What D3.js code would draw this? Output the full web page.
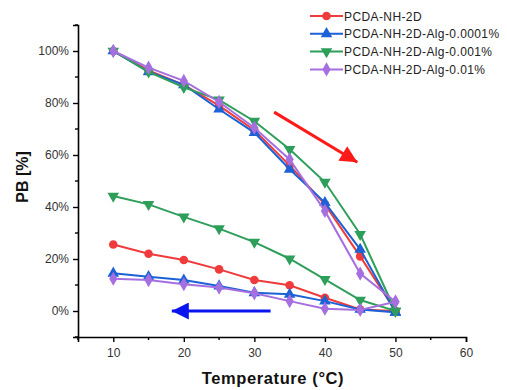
<!DOCTYPE html>
<html>
<head>
<meta charset="utf-8">
<script src="https://cdn.jsdelivr.net/npm/d3@7"></script>
<style>
  body { margin: 0; background: #fff; }
  text { font-family: "Liberation Sans", Arial, sans-serif; }
</style>
</head>
<body>
<div id="chart"></div>
<script>
// temperatures (x) shared by every series
var temps = [10, 15, 20, 25, 30, 35, 40, 45, 50];

var seriesNames = ["PCDA-NH-2D", "PCDA-NH-2D-Alg-0.0001%", "PCDA-NH-2D-Alg-0.001%", "PCDA-NH-2D-Alg-0.01%"];

// heating branch (10 -> 50)
var heatRed    = [100, 92.5, 87, 79, 69.5, 56, 41, 21, 0];
var heatBlue   = [100, 92, 87, 77.6, 68.6, 54.5, 41.7, 23.7, -0.5];
var heatGreen  = [100, 92, 86, 81.2, 73, 62.2, 49.6, 29.5, 0];
var heatPurple = [100, 93.6, 88.5, 80.4, 70.5, 58.3, 38.5, 14.4, 3.6];

// cooling branch (values at 10 -> 50, drawn back from 50 to 10)
var coolRed    = [25.6, 22, 19.6, 16, 11.9, 9.9, 5.1, 0.6, 0];
var coolBlue   = [14.5, 13.2, 11.9, 9.6, 7, 6.4, 3.8, 0.6, -0.5];
var coolGreen  = [44.2, 41, 36.2, 31.7, 26.5, 20.1, 12.2, 4.2, 0];
var coolPurple = [12.4, 11.9, 10.3, 9, 6.8, 3.8, 0.9, 0.4, 3.6];

var xTicks = [10, 20, 30, 40, 50, 60];
var yTicks = [0, 20, 40, 60, 80, 100];

var colors = ["#ef3b3b", "#1c62d6", "#2e9e5b", "#a66fe0"];
var symbols = [d3.symbolCircle, d3.symbolTriangle, d3.symbolTriangle, d3.symbolDiamond];

var svgWidth = 507, svgHeight = 390;

var svg = d3.select("#chart")
    .append("svg")
    .attr("width", svgWidth)
    .attr("height", svgHeight);

var xScale = d3.scaleLinear().domain([5, 60]).range([78, 466]);
var yScale = d3.scaleLinear().domain([-10, 110]).range([337, 25]);

// axes
var bottomAxis = d3.axisBottom(xScale).tickValues(xTicks).tickSize(5).tickPadding(6).tickFormat(d3.format("d"));
var leftAxis = d3.axisLeft(yScale).tickValues(yTicks).tickSize(5).tickPadding(4).tickFormat(d => d + "%");

var xAxis = svg.append("g")
    .attr("transform", "translate(0, 337)")
    .call(bottomAxis);

var yAxis = svg.append("g")
    .attr("transform", "translate(78, 0)")
    .call(leftAxis);

[xAxis, yAxis].forEach(function(a) {
  a.select(".domain").attr("stroke", "#000").attr("stroke-width", 1.6);
  a.selectAll(".tick line").attr("stroke", "#000").attr("stroke-width", 1.4);
  a.selectAll(".tick text").attr("fill", "#333").style("font-size", "12px");
});

// minor ticks
svg.append("g").selectAll("line")
    .data(d3.range(5, 60, 10))
    .enter().append("line")
    .attr("x1", d => xScale(d)).attr("x2", d => xScale(d))
    .attr("y1", 337).attr("y2", 340)
    .attr("stroke", "#000").attr("stroke-width", 1.4);

svg.append("g").selectAll("line")
    .data(d3.range(-10, 111, 20))
    .enter().append("line")
    .attr("x1", 75).attr("x2", 78)
    .attr("y1", d => yScale(d)).attr("y2", d => yScale(d))
    .attr("stroke", "#000").attr("stroke-width", 1.4);

// axis titles
svg.append("text")
    .attr("x", 273)
    .attr("y", 384)
    .attr("text-anchor", "middle")
    .style("font-size", "16.5px")
    .style("font-weight", "bold")
    .style("letter-spacing", "0.6px")
    .attr("fill", "#111")
    .text("Temperature (°C)");

svg.append("text")
    .attr("transform", "translate(28, 177) rotate(-90)")
    .attr("text-anchor", "middle")
    .style("font-size", "16px")
    .style("font-weight", "bold")
    .attr("fill", "#111")
    .text("PB [%]");

// series
var heating = [heatRed, heatBlue, heatGreen, heatPurple];
var cooling = [coolRed, coolBlue, coolGreen, coolPurple];

var line = d3.line().x(d => xScale(d[0])).y(d => yScale(d[1]));

function markerPath(i, size) {
  return d3.symbol().type(symbols[i]).size(size)();
}

heating.forEach(function(h, i) {
  var pts = temps.map((t, j) => [t, h[j]]);
  var back = temps.map((t, j) => [t, cooling[i][j]]).reverse();
  var all = pts.concat(back);

  var g = svg.append("g");
  g.append("path")
    .datum(all)
    .attr("d", line)
    .attr("fill", "none")
    .attr("stroke", colors[i])
    .attr("stroke-width", 2);

  g.selectAll("path.m")
    .data(all)
    .enter().append("path")
    .attr("class", "m")
    .attr("d", markerPath(i, 58))
    .attr("transform", d => "translate(" + xScale(d[0]) + "," + yScale(d[1]) + ")" + (i == 2 ? " rotate(180)" : ""))
    .attr("fill", colors[i]);
});

// direction arrows
var defs = svg.append("defs");
[["redHead", "#ff1a1a"], ["blueHead", "#0a14f0"]].forEach(function(m) {
  defs.append("marker")
    .attr("id", m[0])
    .attr("viewBox", "0 0 10 10")
    .attr("refX", 10).attr("refY", 5)
    .attr("markerUnits", "userSpaceOnUse")
    .attr("markerWidth", 22).attr("markerHeight", 17)
    .attr("orient", "auto")
    .append("path")
    .attr("d", "M0,0 L10,5 L0,10 Z")
    .attr("fill", m[1]);
});

svg.append("line")
    .attr("x1", xScale(32.8)).attr("y1", yScale(76.5))
    .attr("x2", xScale(44.6)).attr("y2", yScale(57.2))
    .attr("stroke", "#ff1a1a").attr("stroke-width", 3)
    .attr("marker-end", "url(#redHead)");

svg.append("line")
    .attr("x1", xScale(32.3)).attr("y1", yScale(0))
    .attr("x2", xScale(18.3)).attr("y2", yScale(0))
    .attr("stroke", "#0a14f0").attr("stroke-width", 3)
    .attr("marker-end", "url(#blueHead)");

// legend
var legend = svg.append("g");
seriesNames.forEach(function(name, i) {
  var y = 16 + i * 17.8;
  legend.append("line")
    .attr("x1", 310).attr("x2", 343)
    .attr("y1", y).attr("y2", y)
    .attr("stroke", colors[i]).attr("stroke-width", 2);
  legend.append("path")
    .attr("d", markerPath(i, 58))
    .attr("transform", "translate(326.5," + y + ")" + (i == 2 ? " rotate(180)" : ""))
    .attr("fill", colors[i]);
  legend.append("text")
    .attr("x", 344)
    .attr("y", y + 4.5)
    .style("font-size", "12px")
    .style("letter-spacing", "0.4px")
    .attr("fill", "#222")
    .text(name);
});
</script>
</body>
</html>
